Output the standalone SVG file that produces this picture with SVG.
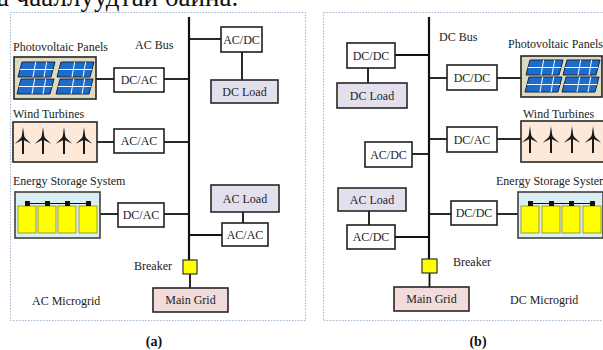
<svg xmlns="http://www.w3.org/2000/svg" xmlns:xlink="http://www.w3.org/1999/xlink" width="603" height="350" viewBox="0 0 603 350">
  <style>
    .frame { fill: none; stroke: #9fb4cf; stroke-width: 1; stroke-dasharray: 1.5 1.5; }
    .box { fill: #ffffff; stroke: #1e1e1e; stroke-width: 1.6; }
    .load { fill: #e4dfec; stroke: #262626; stroke-width: 1.6; }
    .grid { fill: #f2dcdb; stroke: #262626; stroke-width: 1.6; }
    .brk { fill: #ffff00; stroke: #333333; stroke-width: 1.2; }
    .pv { fill: #ddd9c3; stroke: #262626; stroke-width: 1.6; }
    .wind { fill: #fde9d9; stroke: #262626; stroke-width: 1.6; }
    .ess { fill: #dbeef3; stroke: #404040; stroke-width: 1.6; }
    .wire { stroke: #111111; stroke-width: 1.8; fill: none; }
    .bus { stroke: #111111; stroke-width: 2.2; fill: none; }
    text { font-family: "Liberation Serif", "Times New Roman", serif; font-size: 12px; fill: #222222; }
    .c { text-anchor: middle; }
    .cap { font-size: 14px; font-weight: bold; fill: #111111; }
  </style>
  <defs>
    <!-- solar panel: slanted blue module with white cell lines -->
    <g id="panel">
      <path d="M0,15 L33,15 L37,0 L4,0 Z" fill="#1c6ccb" stroke="#1a2638" stroke-width="1"/>
      <path d="M2,7.5 L35,7.5 M15,15 L17.7,0 M26,15 L28.7,0" stroke="#ffffff" stroke-width="1"/>
    </g>
    <!-- wind turbine: hub at origin -->
    <g id="turbine" fill="#1a1a1a">
      <rect x="-1" y="0" width="2" height="16"/>
      <path d="M-1.5,0 L0,-11 L1.5,0 Z"/>
      <path d="M-1.5,0 L0,-10 L1.5,0 Z" transform="rotate(125)"/>
      <path d="M-1.5,0 L0,-10 L1.5,0 Z" transform="rotate(235)"/>
      <circle r="1.7"/>
    </g>
    <!-- battery cell with terminal -->
    <g id="cell">
      <rect x="0" y="0" width="18" height="27" fill="#ffff00" stroke="#8a8a2a" stroke-width="0.8"/>
      <rect x="7" y="-5" width="5" height="5" fill="#111111"/>
    </g>
  </defs>

  <!-- partially visible line of body text above the figure -->
  <text x="-3" y="6" style="font-size:27px; fill:#111111">а чааллуудтай байна.</text>

  <!-- ===== (a) AC microgrid ===== -->
  <rect class="frame" x="10.5" y="12.5" width="295" height="308"/>

  <g id="a-connectors">
    <line class="bus" x1="189" y1="17" x2="189" y2="260"/>
    <line class="wire" x1="189" y1="39" x2="221" y2="39"/>
    <line class="wire" x1="242" y1="52" x2="242" y2="80"/>
    <line class="wire" x1="96" y1="79" x2="114" y2="79"/>
    <line class="wire" x1="164" y1="79" x2="189" y2="79"/>
    <line class="wire" x1="97" y1="142" x2="114" y2="142"/>
    <line class="wire" x1="164" y1="142" x2="189" y2="142"/>
    <line class="wire" x1="100" y1="214" x2="118" y2="214"/>
    <line class="wire" x1="164" y1="214" x2="189" y2="214"/>
    <line class="wire" x1="243" y1="212" x2="243" y2="223"/>
    <line class="wire" x1="189" y1="235" x2="222" y2="235"/>
    <line class="wire" x1="190" y1="274" x2="190" y2="288"/>
  </g>

  <text x="135" y="49">AC Bus</text>

  <g id="a-acdc">
    <rect class="box" x="221" y="27" width="41" height="25"/>
    <text class="c" x="241.5" y="44">AC/DC</text>
  </g>
  <g id="a-dcload">
    <rect class="load" x="211" y="80" width="67" height="23"/>
    <text class="c" x="244.5" y="96">DC Load</text>
  </g>

  <g id="a-pv">
    <text x="13" y="51">Photovoltaic Panels</text>
    <rect class="pv" x="14" y="57" width="82" height="42"/>
    <use xlink:href="#panel" x="18" y="62"/>
    <use xlink:href="#panel" x="57" y="62"/>
    <use xlink:href="#panel" x="17" y="79"/>
    <use xlink:href="#panel" x="56" y="79"/>
  </g>
  <g id="a-dcac-pv">
    <rect class="box" x="114" y="68" width="50" height="24"/>
    <text class="c" x="139" y="84">DC/AC</text>
  </g>

  <g id="a-wind">
    <text x="13" y="118">Wind Turbines</text>
    <rect class="wind" x="13" y="122" width="84" height="40"/>
    <use xlink:href="#turbine" x="23" y="138"/>
    <use xlink:href="#turbine" x="43" y="138"/>
    <use xlink:href="#turbine" x="64" y="138"/>
    <use xlink:href="#turbine" x="84" y="138"/>
  </g>
  <g id="a-acac-wind">
    <rect class="box" x="114" y="129" width="50" height="24"/>
    <text class="c" x="139" y="145">AC/AC</text>
  </g>

  <g id="a-ess">
    <text x="13" y="185">Energy Storage System</text>
    <rect class="ess" x="15" y="192" width="85" height="46"/>
    <line x1="29" y1="203.5" x2="88" y2="203.5" stroke="#111111" stroke-width="1"/>
    <use xlink:href="#cell" x="18" y="206"/>
    <use xlink:href="#cell" x="38" y="206"/>
    <use xlink:href="#cell" x="58" y="206"/>
    <use xlink:href="#cell" x="79" y="206"/>
  </g>
  <g id="a-dcac-ess">
    <rect class="box" x="118" y="203" width="46" height="24"/>
    <text class="c" x="141" y="219">DC/AC</text>
  </g>

  <g id="a-acload">
    <rect class="load" x="211" y="185" width="68" height="27"/>
    <text class="c" x="245" y="203">AC Load</text>
  </g>
  <g id="a-acac-load">
    <rect class="box" x="222" y="223" width="46" height="23"/>
    <text class="c" x="245" y="239">AC/AC</text>
  </g>

  <g id="a-breaker">
    <rect class="brk" x="183" y="260" width="14" height="14"/>
    <text x="134" y="270">Breaker</text>
  </g>
  <g id="a-maingrid">
    <rect class="grid" x="153" y="288" width="75" height="24"/>
    <text class="c" x="190.5" y="304">Main Grid</text>
  </g>
  <text x="32" y="305">AC Microgrid</text>
  <text class="c cap" x="154" y="346">(a)</text>

  <!-- ===== (b) DC microgrid ===== -->
  <rect class="frame" x="323.5" y="12.5" width="300" height="308"/>

  <g id="b-connectors">
    <line class="bus" x1="429" y1="17" x2="429" y2="259"/>
    <line class="wire" x1="395" y1="55" x2="429" y2="55"/>
    <line class="wire" x1="368" y1="68" x2="368" y2="83"/>
    <line class="wire" x1="429" y1="78" x2="447" y2="78"/>
    <line class="wire" x1="497" y1="78" x2="521" y2="78"/>
    <line class="wire" x1="429" y1="139" x2="447" y2="139"/>
    <line class="wire" x1="497" y1="139" x2="521" y2="139"/>
    <line class="wire" x1="412" y1="154" x2="429" y2="154"/>
    <line class="wire" x1="429" y1="214" x2="451" y2="214"/>
    <line class="wire" x1="497" y1="214" x2="518" y2="214"/>
    <line class="wire" x1="369" y1="211" x2="369" y2="225"/>
    <line class="wire" x1="395" y1="237" x2="429" y2="237"/>
    <line class="wire" x1="429.5" y1="273" x2="429.5" y2="287"/>
  </g>

  <text x="439" y="41">DC Bus</text>

  <g id="b-dcdc-load">
    <rect class="box" x="347" y="43" width="48" height="25"/>
    <text class="c" x="371" y="60">DC/DC</text>
  </g>
  <g id="b-dcload">
    <rect class="load" x="337" y="83" width="70" height="25"/>
    <text class="c" x="372" y="100">DC Load</text>
  </g>

  <g id="b-dcdc-pv">
    <rect class="box" x="447" y="65" width="50" height="25"/>
    <text class="c" x="472" y="82">DC/DC</text>
  </g>
  <g id="b-pv">
    <text x="508" y="48">Photovoltaic Panels</text>
    <rect class="pv" x="521" y="56" width="81" height="41"/>
    <use xlink:href="#panel" x="526" y="60"/>
    <use xlink:href="#panel" x="563" y="60"/>
    <use xlink:href="#panel" x="525" y="77"/>
    <use xlink:href="#panel" x="562" y="77"/>
  </g>

  <g id="b-dcac-wind">
    <rect class="box" x="447" y="127" width="50" height="25"/>
    <text class="c" x="472" y="144">DC/AC</text>
  </g>
  <g id="b-wind">
    <text x="523" y="118">Wind Turbines</text>
    <rect class="wind" x="521" y="121" width="84" height="41"/>
    <use xlink:href="#turbine" x="530" y="137"/>
    <use xlink:href="#turbine" x="551" y="137"/>
    <use xlink:href="#turbine" x="572" y="137"/>
    <use xlink:href="#turbine" x="593" y="137"/>
  </g>

  <g id="b-acdc-mid">
    <rect class="box" x="365" y="142" width="47" height="25"/>
    <text class="c" x="388.5" y="159">AC/DC</text>
  </g>

  <g id="b-ess">
    <text x="496" y="185">Energy Storage System</text>
    <rect class="ess" x="518" y="192" width="85" height="46"/>
    <line x1="532" y1="203.5" x2="593" y2="203.5" stroke="#111111" stroke-width="1"/>
    <use xlink:href="#cell" x="521" y="206"/>
    <use xlink:href="#cell" x="542" y="206"/>
    <use xlink:href="#cell" x="562" y="206"/>
    <use xlink:href="#cell" x="583" y="206"/>
  </g>
  <g id="b-dcdc-ess">
    <rect class="box" x="451" y="201" width="46" height="24"/>
    <text class="c" x="474" y="217">DC/DC</text>
  </g>

  <g id="b-acload">
    <rect class="load" x="338" y="188" width="68" height="23"/>
    <text class="c" x="372" y="204">AC Load</text>
  </g>
  <g id="b-acdc-load">
    <rect class="box" x="347" y="225" width="48" height="24"/>
    <text class="c" x="371" y="241">AC/DC</text>
  </g>

  <g id="b-breaker">
    <rect class="brk" x="422" y="259" width="15" height="14"/>
    <text x="453" y="266">Breaker</text>
  </g>
  <g id="b-maingrid">
    <rect class="grid" x="394" y="287" width="75" height="24"/>
    <text class="c" x="431.5" y="303">Main Grid</text>
  </g>
  <text x="510" y="304">DC Microgrid</text>
  <text class="c cap" x="478" y="346">(b)</text>
</svg>
